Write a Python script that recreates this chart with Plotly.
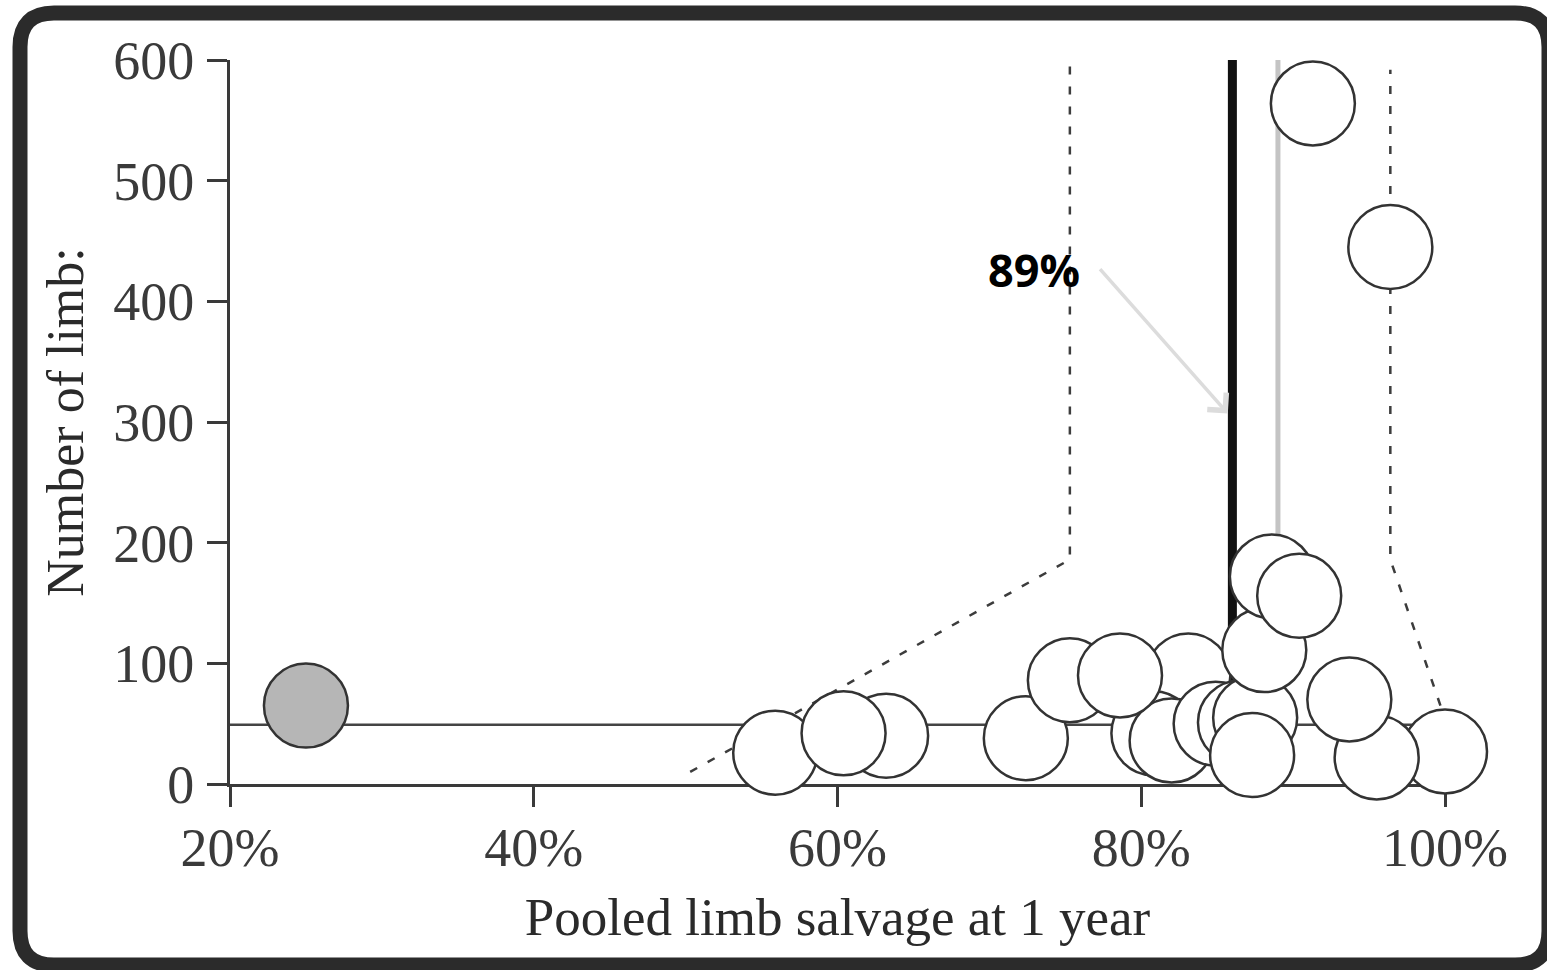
import plotly.graph_objects as go

# ---- data -------------------------------------------------------------
# pooled limb salvage at 1 year (%) and number of limbs per study
salvage_pct = [63.2, 55.9, 60.4, 72.4, 75.3, 83.1, 80.8, 82.0, 78.6,
               84.9, 86.5, 87.5, 87.3, 88.1, 88.6, 90.4,
               100.0, 95.5, 93.7, 91.3, 96.4]
limbs = [40, 26, 42, 38, 86, 90, 42, 36, 90,
         50, 51, 55, 24, 111, 172, 156,
         27, 22, 70, 564, 445]

# the outlying study drawn in grey
outlier_pct = [25.0]
outlier_limbs = [65]

pooled_estimate = 86.0      # pooled limb salvage (black line)
reference_value = 89.0      # reference salvage (grey line, labelled)
mean_limbs = 49             # horizontal reference line

# 95% funnel limits
funnel_left_x = [50.3, 75.3, 75.3]
funnel_left_y = [10, 186, 600]
funnel_right_x = [99.7, 96.4, 96.4]
funnel_right_y = [65, 186, 592]

x_ticks = [20, 40, 60, 80, 100]
x_ticktext = ["20%", "40%", "60%", "80%", "100%"]
y_ticks = [0, 100, 200, 300, 400, 500, 600]

# ---- layout geometry ----------------------------------------------------
W, H = 1547, 970
L, R, T, B = 230, 102, 60, 186
PW, PH = W - L - R, H - T - B


def px_to_paper(px, py):
    return (px - L) / PW, (H - B - py) / PH


serif = "Liberation Serif, Times New Roman, serif"
axis_col = "#3a3a3a"

fig = go.Figure()

# horizontal reference line
fig.add_trace(go.Scatter(x=[20, 100], y=[mean_limbs, mean_limbs], mode="lines",
                         line=dict(color="#444444", width=2.5),
                         hoverinfo="skip", showlegend=False, cliponaxis=False))

# funnel limits
for fx, fy in ((funnel_left_x, funnel_left_y), (funnel_right_x, funnel_right_y)):
    fig.add_trace(go.Scatter(x=fx, y=fy, mode="lines",
                             line=dict(color="#3c3c3c", width=2.5, dash="8px,12px"),
                             hoverinfo="skip", showlegend=False, cliponaxis=False))

# reference (grey) and pooled (black) vertical lines
fig.add_trace(go.Scatter(x=[reference_value, reference_value], y=[0, 600], mode="lines",
                         line=dict(color="#c4c4c4", width=5),
                         hoverinfo="skip", showlegend=False, cliponaxis=False))
fig.add_trace(go.Scatter(x=[pooled_estimate, pooled_estimate], y=[0, 603], mode="lines",
                         line=dict(color="#111111", width=9),
                         hoverinfo="skip", showlegend=False, cliponaxis=False))

# study bubbles
fig.add_trace(go.Scatter(x=salvage_pct, y=limbs, mode="markers",
                         marker=dict(size=84, color="white",
                                     line=dict(color="#333333", width=2.5)),
                         showlegend=False, cliponaxis=False))
fig.add_trace(go.Scatter(x=outlier_pct, y=outlier_limbs, mode="markers",
                         marker=dict(size=84, color="#b6b6b6",
                                     line=dict(color="#333333", width=2.5)),
                         showlegend=False, cliponaxis=False))

# label with pointer
fig.add_annotation(x=85.7, y=307, ax=77.2, ay=428, xref="x", yref="y",
                   axref="x", ayref="y", text="", showarrow=True,
                   arrowhead=4, arrowsize=1.4, arrowwidth=3.5, arrowcolor="#dcdcdc")
fig.add_annotation(x=76.1, y=426, xref="x", yref="y",
                   xanchor="right", yanchor="middle", showarrow=False,
                   text="<b>%d%%</b>" % reference_value,
                   font=dict(family="Open Sans, sans-serif", size=45, color="black"))

# rounded outer frame
x0, y0 = px_to_paper(20, 13)
x1, y1 = px_to_paper(1549, 965)
rx, _ = px_to_paper(20 + 34, 0)
rx -= x0
_, ry0 = px_to_paper(0, 13 + 34)
ry = y0 - ry0
frame = (f"M {x0 + rx},{y0} L {x1 - rx},{y0} Q {x1},{y0} {x1},{y0 - ry} "
         f"L {x1},{y1 + ry} Q {x1},{y1} {x1 - rx},{y1} "
         f"L {x0 + rx},{y1} Q {x0},{y1} {x0},{y1 + ry} "
         f"L {x0},{y0 - ry} Q {x0},{y0} {x0 + rx},{y0} Z")
fig.add_shape(type="path", path=frame, xref="paper", yref="paper",
              line=dict(color="#2b2b2b", width=15))

fig.update_layout(
    width=W, height=H,
    margin=dict(l=L, r=R, t=T, b=B, pad=0),
    plot_bgcolor="white", paper_bgcolor="white",
    xaxis=dict(range=[20, 100], tickvals=x_ticks, ticktext=x_ticktext,
               showgrid=False, zeroline=False, showline=True,
               linecolor=axis_col, linewidth=3, ticks="outside", ticklen=20,
               tickwidth=2.5, tickcolor=axis_col, layer="below traces",
               ticklabelstandoff=-6,
               tickfont=dict(family=serif, size=54, color="#3a3a3a"),
               title=dict(text="Pooled limb salvage at 1 year",
                          font=dict(family=serif, size=53, color="#2a2a2a"),
                          standoff=22)),
    yaxis=dict(range=[0, 600], tickvals=y_ticks,
               showgrid=False, zeroline=False, showline=True,
               linecolor=axis_col, linewidth=3, ticks="outside", ticklen=20,
               tickwidth=2.5, tickcolor=axis_col, layer="below traces",
               ticklabelstandoff=2,
               tickfont=dict(family=serif, size=54, color="#3a3a3a"),
               title=dict(text="Number of limb:",
                          font=dict(family=serif, size=52, color="#2a2a2a"),
                          standoff=14)),
)

fig.write_html("out.html")
